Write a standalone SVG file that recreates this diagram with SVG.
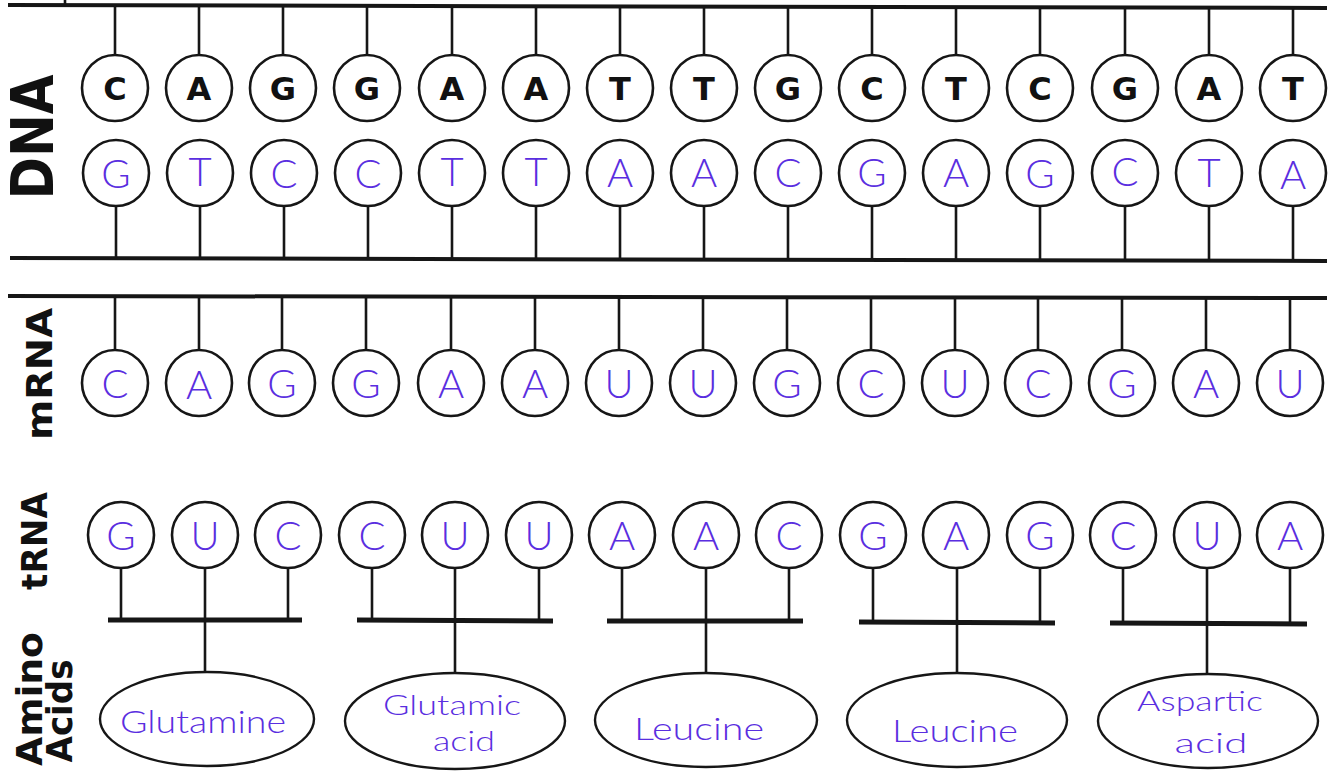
<svg xmlns="http://www.w3.org/2000/svg" width="1332" height="772" viewBox="0 0 1332 772">
  <style>
    .rail { stroke: #161616; stroke-width: 4; fill: none; }
    .bar { stroke: #161616; stroke-width: 5; fill: none; }
    .stem { stroke: #161616; stroke-width: 2.6; fill: none; }
    .base { fill: #ffffff; stroke: #161616; stroke-width: 2.6; }
    .amino { fill: #ffffff; stroke: #161616; stroke-width: 2.4; }
    .lbl { font-family: "DejaVu Sans", "Liberation Sans", sans-serif; font-weight: bold; fill: #111111; text-anchor: middle; }
    .dna { font-family: "DejaVu Sans", "Liberation Sans", sans-serif; font-weight: bold; font-size: 32px; fill: #111111; text-anchor: middle; }
    .hand { font-family: Lato, "Open Sans", sans-serif; font-weight: 300; font-size: 40px; fill: #5a2ee0; text-anchor: middle; }
    .aa { font-family: Lato, "Open Sans", sans-serif; font-weight: 300; font-size: 32px; fill: #5a2ee0; text-anchor: middle; }
    .aa2 { font-family: Lato, "Open Sans", sans-serif; font-weight: 300; font-size: 28px; fill: #5a2ee0; text-anchor: middle; }
  </style>

  <rect width="1332" height="772" fill="#ffffff"/>

  <!-- row labels -->
  <g id="labels">
    <text class="lbl" font-size="58" textLength="125" lengthAdjust="spacingAndGlyphs" transform="translate(53,137) rotate(-90)">DNA</text>
    <text class="lbl" font-size="36" textLength="132" lengthAdjust="spacingAndGlyphs" transform="translate(52,374) rotate(-90)">mRNA</text>
    <text class="lbl" font-size="36" textLength="98" lengthAdjust="spacingAndGlyphs" transform="translate(47,541) rotate(-90)">tRNA</text>
    <text class="lbl" font-size="35" textLength="134" lengthAdjust="spacingAndGlyphs" transform="translate(42,699) rotate(-90)">Amino</text>
    <text class="lbl" font-size="35" textLength="103" lengthAdjust="spacingAndGlyphs" transform="translate(72,711) rotate(-90)">Acids</text>
  </g>

  <!-- backbones, stems and bars -->
  <g id="connectors">
    <line class="stem" x1="65" y1="0" x2="65" y2="4"/>
    <line class="rail" x1="8" y1="5" x2="1327" y2="8"/>
    <line class="rail" x1="10" y1="258" x2="1327" y2="261"/>
    <line class="rail" x1="8" y1="296" x2="1327" y2="298"/>

    <!-- DNA upper strand stems -->
    <g id="dna-top-stems">
      <line class="stem" x1="115" y1="6" x2="115" y2="55"/>
      <line class="stem" x1="199" y1="6" x2="199" y2="55"/>
      <line class="stem" x1="283" y1="6" x2="283" y2="55"/>
      <line class="stem" x1="367" y1="6" x2="367" y2="55"/>
      <line class="stem" x1="452" y1="6" x2="452" y2="55"/>
      <line class="stem" x1="536" y1="7" x2="536" y2="55"/>
      <line class="stem" x1="620" y1="7" x2="620" y2="55"/>
      <line class="stem" x1="704" y1="7" x2="704" y2="55"/>
      <line class="stem" x1="788" y1="7" x2="788" y2="55"/>
      <line class="stem" x1="872" y1="7" x2="872" y2="55"/>
      <line class="stem" x1="956" y1="7" x2="956" y2="55"/>
      <line class="stem" x1="1040" y1="8" x2="1040" y2="55"/>
      <line class="stem" x1="1125" y1="8" x2="1125" y2="55"/>
      <line class="stem" x1="1209" y1="8" x2="1209" y2="55"/>
      <line class="stem" x1="1293" y1="8" x2="1293" y2="55"/>
    </g>
    <!-- DNA lower strand stems -->
    <g id="dna-bottom-stems">
      <line class="stem" x1="116" y1="206" x2="116" y2="259"/>
      <line class="stem" x1="200" y1="206" x2="200" y2="259"/>
      <line class="stem" x1="284" y1="206" x2="284" y2="259"/>
      <line class="stem" x1="368" y1="206" x2="368" y2="259"/>
      <line class="stem" x1="452" y1="206" x2="452" y2="259"/>
      <line class="stem" x1="536" y1="206" x2="536" y2="259"/>
      <line class="stem" x1="620" y1="206" x2="620" y2="260"/>
      <line class="stem" x1="704" y1="206" x2="704" y2="260"/>
      <line class="stem" x1="788" y1="206" x2="788" y2="260"/>
      <line class="stem" x1="872" y1="206" x2="872" y2="260"/>
      <line class="stem" x1="956" y1="206" x2="956" y2="260"/>
      <line class="stem" x1="1040" y1="206" x2="1040" y2="260"/>
      <line class="stem" x1="1125" y1="206" x2="1125" y2="261"/>
      <line class="stem" x1="1209" y1="206" x2="1209" y2="261"/>
      <line class="stem" x1="1293" y1="206" x2="1293" y2="261"/>
    </g>
    <!-- mRNA stems -->
    <g id="mrna-stems">
      <line class="stem" x1="115" y1="297" x2="115" y2="350"/>
      <line class="stem" x1="199" y1="297" x2="199" y2="350"/>
      <line class="stem" x1="282" y1="297" x2="282" y2="350"/>
      <line class="stem" x1="366" y1="297" x2="366" y2="350"/>
      <line class="stem" x1="451" y1="297" x2="451" y2="350"/>
      <line class="stem" x1="535" y1="297" x2="535" y2="350"/>
      <line class="stem" x1="619" y1="297" x2="619" y2="350"/>
      <line class="stem" x1="703" y1="297" x2="703" y2="350"/>
      <line class="stem" x1="787" y1="297" x2="787" y2="350"/>
      <line class="stem" x1="871" y1="297" x2="871" y2="350"/>
      <line class="stem" x1="955" y1="297" x2="955" y2="350"/>
      <line class="stem" x1="1038" y1="297" x2="1038" y2="350"/>
      <line class="stem" x1="1122" y1="297" x2="1122" y2="350"/>
      <line class="stem" x1="1206" y1="297" x2="1206" y2="350"/>
      <line class="stem" x1="1290" y1="297" x2="1290" y2="350"/>
    </g>
    <!-- tRNA stems, codon bars and links to amino acids -->
    <g id="trna-stems">
      <line class="stem" x1="121" y1="568" x2="121" y2="620"/>
      <line class="stem" x1="205" y1="568" x2="205" y2="672"/>
      <line class="stem" x1="288" y1="568" x2="288" y2="620"/>
      <line class="bar" x1="108" y1="620" x2="302" y2="620"/>

      <line class="stem" x1="372" y1="568" x2="372" y2="620"/>
      <line class="stem" x1="455" y1="568" x2="455" y2="673"/>
      <line class="stem" x1="539" y1="568" x2="539" y2="620"/>
      <line class="bar" x1="357" y1="620" x2="553" y2="621"/>

      <line class="stem" x1="622" y1="568" x2="622" y2="621"/>
      <line class="stem" x1="706" y1="568" x2="706" y2="673"/>
      <line class="stem" x1="789" y1="568" x2="789" y2="621"/>
      <line class="bar" x1="607" y1="621" x2="803" y2="621"/>

      <line class="stem" x1="873" y1="568" x2="873" y2="622"/>
      <line class="stem" x1="957" y1="568" x2="957" y2="673"/>
      <line class="stem" x1="1040" y1="568" x2="1040" y2="622"/>
      <line class="bar" x1="859" y1="622" x2="1055" y2="623"/>

      <line class="stem" x1="1123" y1="568" x2="1123" y2="623"/>
      <line class="stem" x1="1207" y1="568" x2="1207" y2="675"/>
      <line class="stem" x1="1290" y1="568" x2="1290" y2="623"/>
      <line class="bar" x1="1110" y1="623" x2="1307" y2="624"/>
    </g>
  </g>

  <!-- DNA coding strand -->
  <g id="dna-top">
    <g id="dna-top-1"><circle class="base" cx="115" cy="88" r="33"/><text class="dna" x="115" y="100">C</text></g>
    <g id="dna-top-2"><circle class="base" cx="199" cy="88" r="33"/><text class="dna" x="199" y="100">A</text></g>
    <g id="dna-top-3"><circle class="base" cx="283" cy="88" r="33"/><text class="dna" x="283" y="100">G</text></g>
    <g id="dna-top-4"><circle class="base" cx="367" cy="88" r="33"/><text class="dna" x="367" y="100">G</text></g>
    <g id="dna-top-5"><circle class="base" cx="452" cy="88" r="33"/><text class="dna" x="452" y="100">A</text></g>
    <g id="dna-top-6"><circle class="base" cx="536" cy="88" r="33"/><text class="dna" x="536" y="100">A</text></g>
    <g id="dna-top-7"><circle class="base" cx="620" cy="88" r="33"/><text class="dna" x="620" y="100">T</text></g>
    <g id="dna-top-8"><circle class="base" cx="704" cy="88" r="33"/><text class="dna" x="704" y="100">T</text></g>
    <g id="dna-top-9"><circle class="base" cx="788" cy="88" r="33"/><text class="dna" x="788" y="100">G</text></g>
    <g id="dna-top-10"><circle class="base" cx="872" cy="88" r="33"/><text class="dna" x="872" y="100">C</text></g>
    <g id="dna-top-11"><circle class="base" cx="956" cy="88" r="33"/><text class="dna" x="956" y="100">T</text></g>
    <g id="dna-top-12"><circle class="base" cx="1040" cy="88" r="33"/><text class="dna" x="1040" y="100">C</text></g>
    <g id="dna-top-13"><circle class="base" cx="1125" cy="88" r="33"/><text class="dna" x="1125" y="100">G</text></g>
    <g id="dna-top-14"><circle class="base" cx="1209" cy="88" r="33"/><text class="dna" x="1209" y="100">A</text></g>
    <g id="dna-top-15"><circle class="base" cx="1293" cy="88" r="33"/><text class="dna" x="1293" y="100">T</text></g>
  </g>

  <!-- DNA template strand -->
  <g id="dna-bottom">
    <g id="dna-bot-1"><circle class="base" cx="116" cy="173" r="33"/><text class="hand" x="116" y="188">G</text></g>
    <g id="dna-bot-2"><circle class="base" cx="200" cy="173" r="33"/><text class="hand" x="200" y="186">T</text></g>
    <g id="dna-bot-3"><circle class="base" cx="284" cy="173" r="33"/><text class="hand" x="284" y="188">C</text></g>
    <g id="dna-bot-4"><circle class="base" cx="368" cy="173" r="33"/><text class="hand" x="368" y="188">C</text></g>
    <g id="dna-bot-5"><circle class="base" cx="452" cy="173" r="33"/><text class="hand" x="452" y="186">T</text></g>
    <g id="dna-bot-6"><circle class="base" cx="536" cy="173" r="33"/><text class="hand" x="536" y="186">T</text></g>
    <g id="dna-bot-7"><circle class="base" cx="620" cy="173" r="33"/><text class="hand" x="620" y="187">A</text></g>
    <g id="dna-bot-8"><circle class="base" cx="704" cy="173" r="33"/><text class="hand" x="704" y="187">A</text></g>
    <g id="dna-bot-9"><circle class="base" cx="788" cy="173" r="33"/><text class="hand" x="788" y="187">C</text></g>
    <g id="dna-bot-10"><circle class="base" cx="872" cy="173" r="33"/><text class="hand" x="872" y="187">G</text></g>
    <g id="dna-bot-11"><circle class="base" cx="956" cy="173" r="33"/><text class="hand" x="956" y="187">A</text></g>
    <g id="dna-bot-12"><circle class="base" cx="1040" cy="173" r="33"/><text class="hand" x="1040" y="188">G</text></g>
    <g id="dna-bot-13"><circle class="base" cx="1125" cy="173" r="33"/><text class="hand" x="1125" y="186">C</text></g>
    <g id="dna-bot-14"><circle class="base" cx="1209" cy="173" r="33"/><text class="hand" x="1209" y="187">T</text></g>
    <g id="dna-bot-15"><circle class="base" cx="1293" cy="173" r="33"/><text class="hand" x="1293" y="189">A</text></g>
  </g>

  <!-- messenger RNA -->
  <g id="mrna">
    <g id="mrna-1"><circle class="base" cx="115" cy="383" r="33"/><text class="hand" x="115" y="398">C</text></g>
    <g id="mrna-2"><circle class="base" cx="199" cy="383" r="33"/><text class="hand" x="199" y="399">A</text></g>
    <g id="mrna-3"><circle class="base" cx="282" cy="383" r="33"/><text class="hand" x="282" y="398">G</text></g>
    <g id="mrna-4"><circle class="base" cx="366" cy="383" r="33"/><text class="hand" x="366" y="398">G</text></g>
    <g id="mrna-5"><circle class="base" cx="451" cy="383" r="33"/><text class="hand" x="451" y="398">A</text></g>
    <g id="mrna-6"><circle class="base" cx="535" cy="383" r="33"/><text class="hand" x="535" y="398">A</text></g>
    <g id="mrna-7"><circle class="base" cx="619" cy="383" r="33"/><text class="hand" x="619" y="398">U</text></g>
    <g id="mrna-8"><circle class="base" cx="703" cy="383" r="33"/><text class="hand" x="703" y="398">U</text></g>
    <g id="mrna-9"><circle class="base" cx="787" cy="383" r="33"/><text class="hand" x="787" y="398">G</text></g>
    <g id="mrna-10"><circle class="base" cx="871" cy="383" r="33"/><text class="hand" x="871" y="398">C</text></g>
    <g id="mrna-11"><circle class="base" cx="955" cy="383" r="33"/><text class="hand" x="955" y="398">U</text></g>
    <g id="mrna-12"><circle class="base" cx="1038" cy="383" r="33"/><text class="hand" x="1038" y="398">C</text></g>
    <g id="mrna-13"><circle class="base" cx="1122" cy="383" r="33"/><text class="hand" x="1122" y="398">G</text></g>
    <g id="mrna-14"><circle class="base" cx="1206" cy="383" r="33"/><text class="hand" x="1206" y="398">A</text></g>
    <g id="mrna-15"><circle class="base" cx="1290" cy="383" r="33"/><text class="hand" x="1290" y="398">U</text></g>
  </g>

  <!-- transfer RNA anticodons -->
  <g id="trna">
    <g id="trna-1"><circle class="base" cx="121" cy="535" r="33"/><text class="hand" x="121" y="550">G</text></g>
    <g id="trna-2"><circle class="base" cx="205" cy="535" r="33"/><text class="hand" x="205" y="550">U</text></g>
    <g id="trna-3"><circle class="base" cx="288" cy="535" r="33"/><text class="hand" x="288" y="550">C</text></g>
    <g id="trna-4"><circle class="base" cx="372" cy="535" r="33"/><text class="hand" x="372" y="550">C</text></g>
    <g id="trna-5"><circle class="base" cx="455" cy="535" r="33"/><text class="hand" x="455" y="550">U</text></g>
    <g id="trna-6"><circle class="base" cx="539" cy="535" r="33"/><text class="hand" x="539" y="550">U</text></g>
    <g id="trna-7"><circle class="base" cx="622" cy="535" r="33"/><text class="hand" x="622" y="550">A</text></g>
    <g id="trna-8"><circle class="base" cx="706" cy="535" r="33"/><text class="hand" x="706" y="550">A</text></g>
    <g id="trna-9"><circle class="base" cx="789" cy="535" r="33"/><text class="hand" x="789" y="550">C</text></g>
    <g id="trna-10"><circle class="base" cx="873" cy="535" r="33"/><text class="hand" x="873" y="550">G</text></g>
    <g id="trna-11"><circle class="base" cx="956" cy="535" r="33"/><text class="hand" x="956" y="550">A</text></g>
    <g id="trna-12"><circle class="base" cx="1040" cy="535" r="33"/><text class="hand" x="1040" y="550">G</text></g>
    <g id="trna-13"><circle class="base" cx="1123" cy="535" r="33"/><text class="hand" x="1123" y="550">C</text></g>
    <g id="trna-14"><circle class="base" cx="1207" cy="535" r="33"/><text class="hand" x="1207" y="550">U</text></g>
    <g id="trna-15"><circle class="base" cx="1290" cy="535" r="33"/><text class="hand" x="1290" y="550">A</text></g>
  </g>

  <!-- amino acids -->
  <g id="amino-acids">
    <g id="aa-1"><ellipse class="amino" cx="207" cy="719" rx="107" ry="47"/><text class="aa" x="203" y="733" textLength="166" lengthAdjust="spacingAndGlyphs">Glutamine</text></g>
    <g id="aa-2"><ellipse class="amino" cx="455" cy="721" rx="110" ry="48"/><text class="aa2" x="452" y="715" textLength="138" lengthAdjust="spacingAndGlyphs">Glutamic</text><text class="aa2" x="464" y="751" textLength="62" lengthAdjust="spacingAndGlyphs">acid</text></g>
    <g id="aa-3"><ellipse class="amino" cx="706" cy="720" rx="111" ry="47"/><text class="aa" x="699" y="740" textLength="130" lengthAdjust="spacingAndGlyphs">Leucine</text></g>
    <g id="aa-4"><ellipse class="amino" cx="957" cy="720" rx="110" ry="47"/><text class="aa" x="955" y="742" textLength="126" lengthAdjust="spacingAndGlyphs">Leucine</text></g>
    <g id="aa-5"><ellipse class="amino" cx="1208" cy="721" rx="110" ry="47"/><text class="aa2" x="1200" y="711" textLength="126" lengthAdjust="spacingAndGlyphs">Aspartic</text><text class="aa2" x="1211" y="753" textLength="73" lengthAdjust="spacingAndGlyphs">acid</text></g>
  </g>
</svg>
